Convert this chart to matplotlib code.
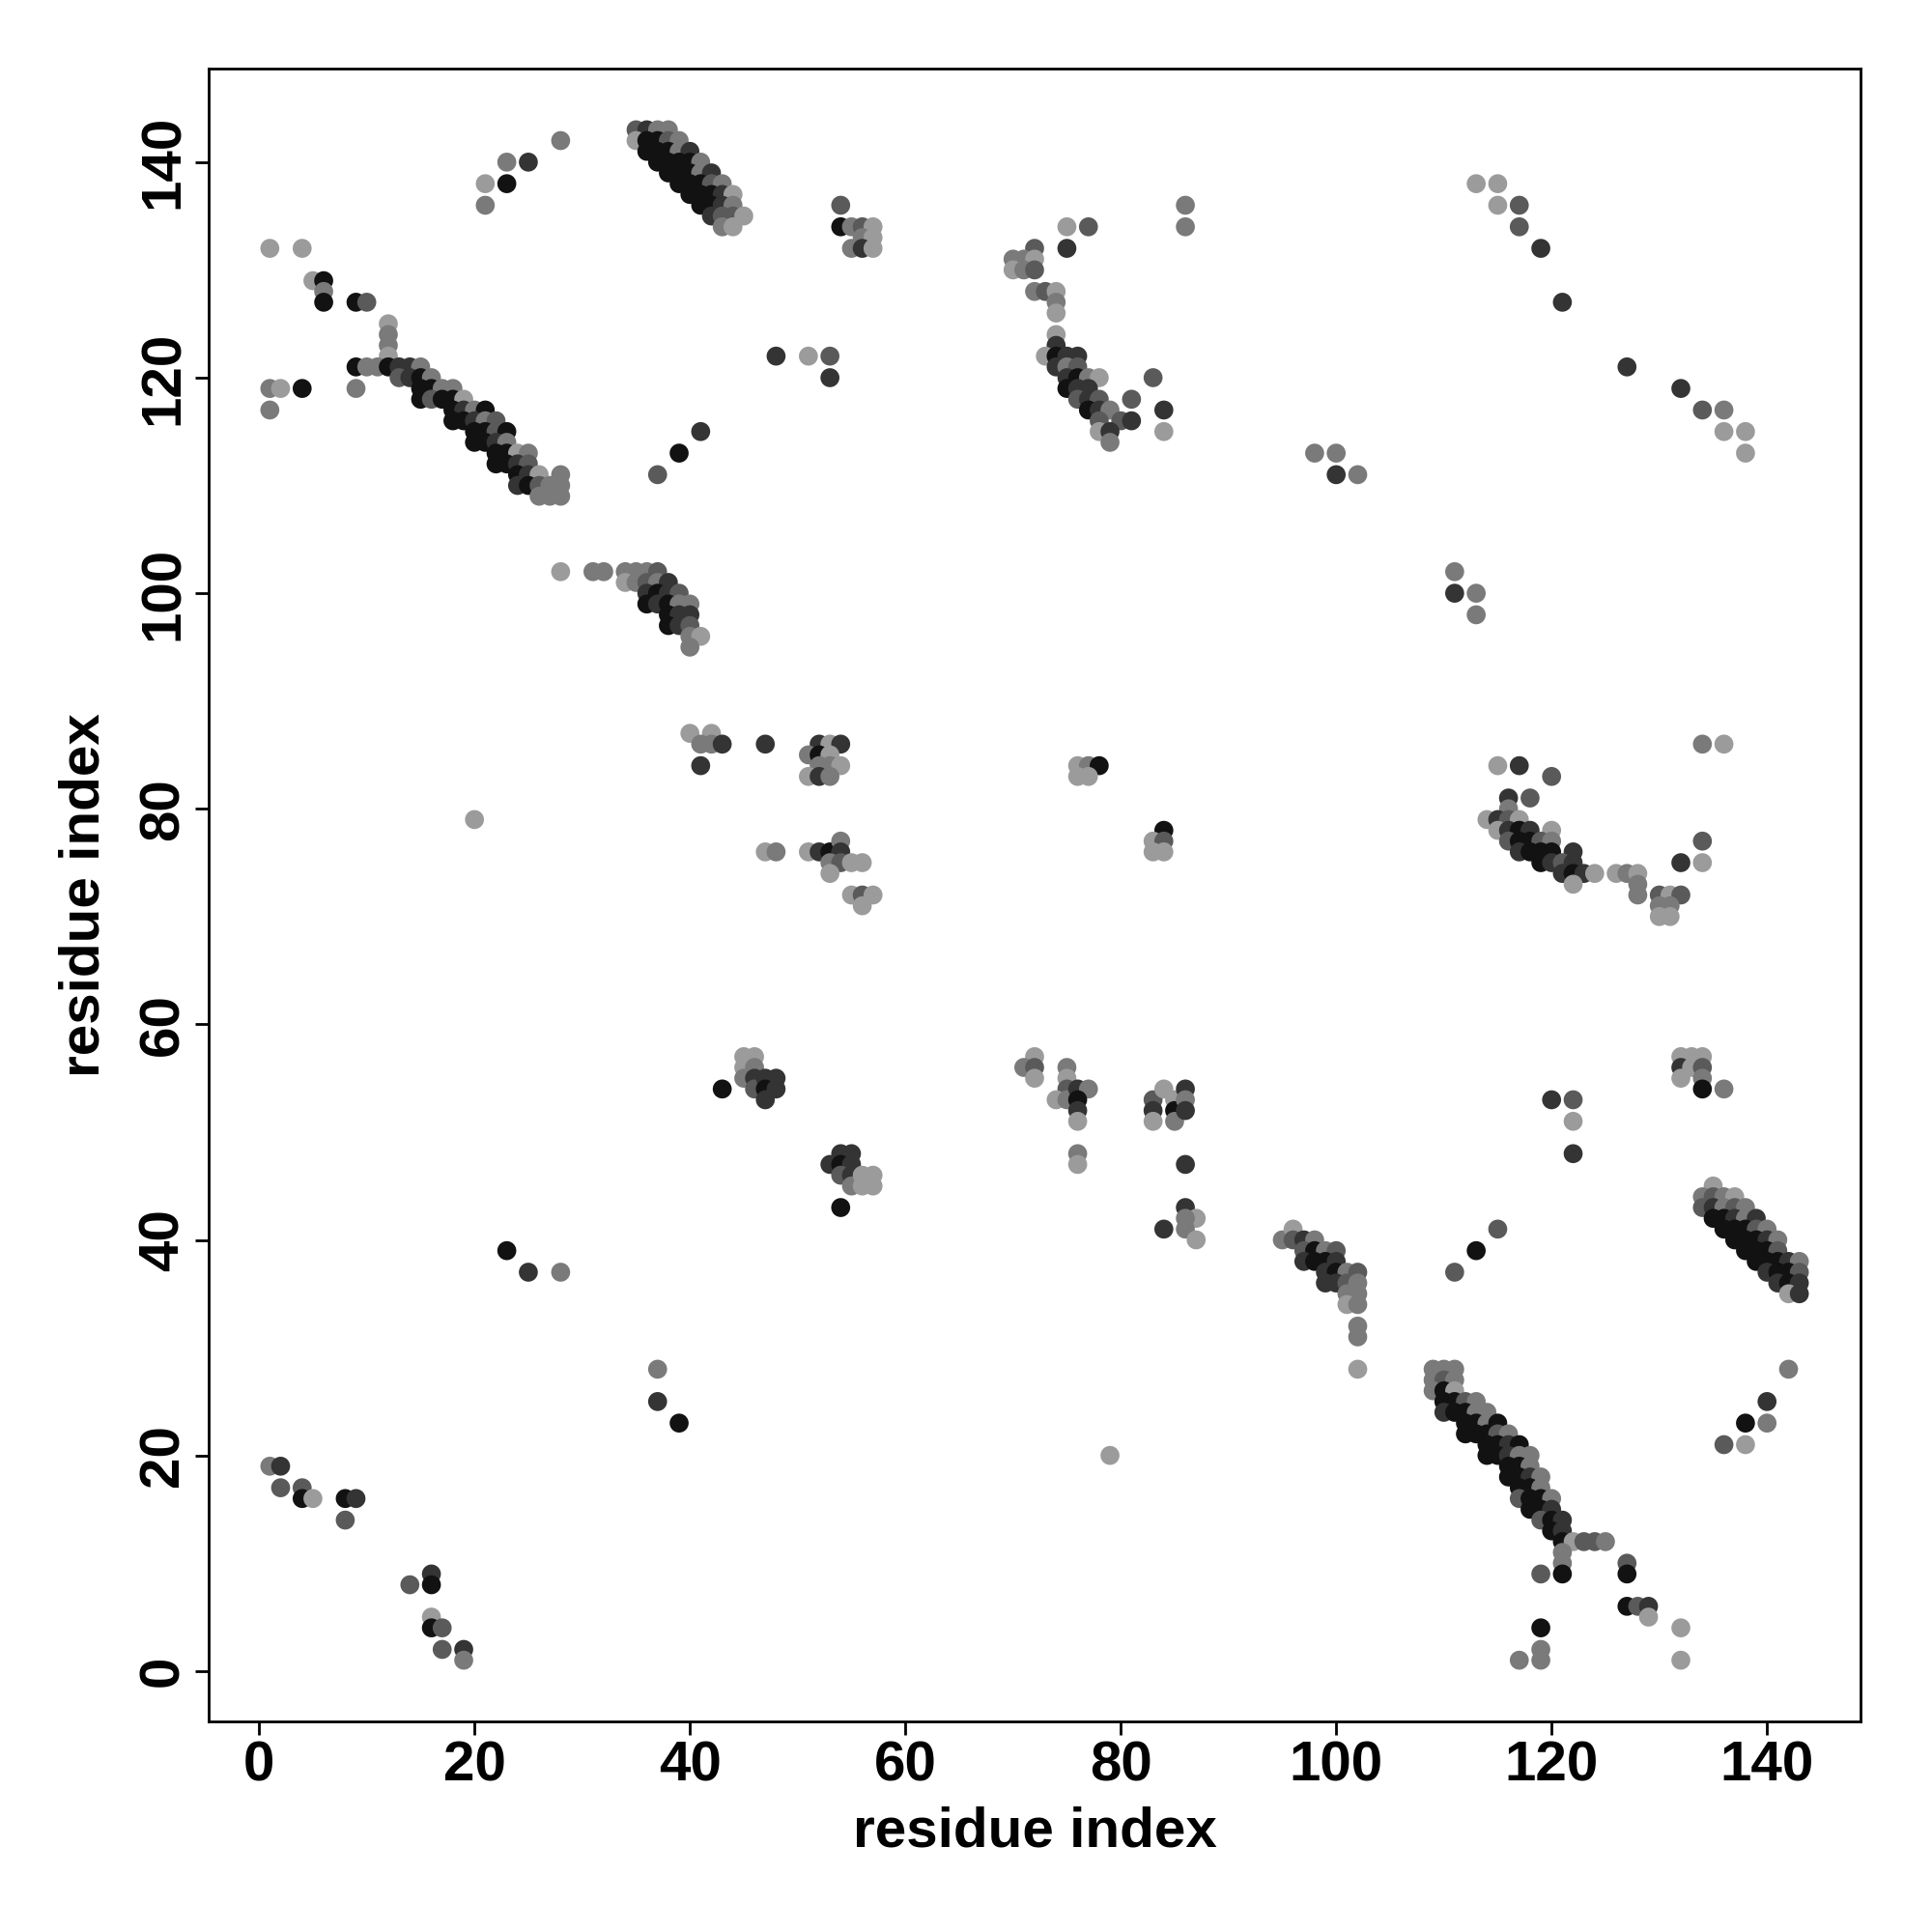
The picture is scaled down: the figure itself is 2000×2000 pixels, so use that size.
import matplotlib
matplotlib.use("Agg")
import matplotlib.pyplot as plt

plt.rcParams['font.family'] = ['Liberation Sans', 'DejaVu Sans']
plt.rcParams['font.weight'] = 'bold'

# shade levels: 1 = black ... 5 = light grey
shade_colors = {1: '#121212', 2: '#343434', 3: '#5a5a5a', 4: '#7a7a7a', 5: '#9b9b9b'}

# (residue i, residue j, shade level)
cluster_top_left = [
    (28,142,4),(23,140,4),(25,140,2),(21,138,5),(23,138,1),(21,136,4),
    (1,132,5),(4,132,5),(5,129,5),(6,129,1),(6,128,4),(6,127,1),(9,127,1),(10,127,3),
    (12,125,5),(12,124,4),(12,123,4),(12,122,5),
    (9,121,1),(10,121,4),(11,121,4),(12,121,1),(13,121,2),(14,121,2),(15,121,4),
    (1,119,4),(2,119,5),(4,119,1),(9,119,4),(1,117,4),
    (13,120,3),(14,120,2),(15,120,1),(16,120,4),
    (15,119,1),(16,119,1),(17,119,4),(18,119,4),
    (15,118,1),(16,118,3),(17,118,1),(18,118,1),(19,118,5),
    (18,117,1),(19,117,2),(20,117,4),(21,117,1),
    (18,116,1),(19,116,1),(20,116,2),(21,116,4),(22,116,3),
    (20,115,1),(21,115,1),(22,115,3),(23,115,1),
    (20,114,1),(21,114,1),(22,114,2),(23,114,4),
    (22,113,1),(23,113,1),(24,113,5),(25,113,4),
    (22,112,1),(23,112,1),(24,112,2),(25,112,3),
    (24,111,1),(25,111,2),(26,111,5),(28,111,4),
    (24,110,2),(25,110,1),(26,110,3),(27,110,4),(28,110,4),
    (26,109,4),(27,109,4),(28,109,4),
]

cluster_top_mid = [
    (35,143,3),(36,143,2),(37,143,4),(38,143,4),
    (35,142,5),(36,142,1),(37,142,1),(38,142,3),(39,142,4),
    (36,141,1),(37,141,1),(38,141,1),(39,141,4),(40,141,2),
    (37,140,1),(38,140,1),(39,140,1),(40,140,1),(41,140,4),
    (38,139,1),(39,139,1),(40,139,1),(41,139,4),(42,139,2),
    (39,138,1),(40,138,1),(41,138,1),(42,138,3),(43,138,4),
    (40,137,1),(41,137,1),(42,137,1),(43,137,2),(44,137,5),
    (41,136,1),(42,136,1),(43,136,2),(44,136,4),
    (42,135,2),(43,135,3),(44,135,3),(45,135,5),
    (43,134,4),(44,134,5),
    (54,136,3),(54,134,1),(55,134,4),(56,134,3),(57,134,5),(56,133,4),(57,133,5),
    (55,132,4),(56,132,2),(57,132,5),
    (48,122,2),(51,122,5),(53,122,3),(53,120,2),
    (41,115,2),(39,113,1),(37,111,3),
    (28,102,5),(31,102,4),(32,102,4),(34,102,4),(35,102,4),(36,102,4),(37,102,3),
    (34,101,5),(35,101,4),(36,101,3),(37,101,4),(38,101,2),
    (36,100,2),(37,100,1),(38,100,2),(39,100,3),
    (36,99,1),(37,99,2),(38,99,1),(39,99,4),(40,99,4),
    (38,98,1),(39,98,2),(40,98,2),
    (38,97,1),(39,97,2),(40,97,3),
    (40,96,4),(41,96,5),(40,95,4),
]

cluster_top_right = [
    (86,136,4),(86,134,4),(75,134,5),(77,134,3),(75,132,2),
    (72,132,3),(70,131,4),(71,131,4),(72,131,5),(70,130,5),(71,130,4),(72,130,3),
    (72,128,4),(73,128,3),(74,128,5),(74,127,4),(74,126,5),
    (74,124,5),(74,123,2),(73,122,5),(74,122,1),(75,122,2),(76,122,2),
    (74,121,2),(75,121,4),(76,121,3),
    (75,120,2),(76,120,1),(77,120,4),(78,120,5),
    (75,119,1),(76,119,2),(77,119,2),
    (76,118,3),(77,118,2),(78,118,3),
    (77,117,1),(78,117,2),(79,117,4),
    (78,116,3),(80,116,3),(81,116,2),
    (78,115,5),(79,115,2),(79,114,4),
    (81,118,3),(83,120,3),(84,117,2),(84,115,5),
    (98,113,4),(100,113,4),(100,111,2),(102,111,4),
    (113,138,5),(115,138,5),(115,136,5),(117,136,3),(117,134,3),(119,132,2),
    (121,127,2),(127,121,2),(132,119,2),(134,117,3),(136,117,4),(136,115,5),
    (138,115,5),(138,113,5),
    (111,102,4),(111,100,2),(113,100,4),(113,98,4),
]

cluster_mid_left = [
    (40,87,5),(42,87,5),(41,86,4),(42,86,4),(43,86,2),(41,84,2),(47,86,2),
    (52,86,2),(53,86,5),(54,86,2),(51,85,4),(52,85,1),(53,85,5),(52,84,4),(53,84,4),
    (54,84,5),(51,83,5),(52,83,2),(53,83,4),
    (47,76,5),(48,76,4),(51,76,5),(52,76,2),(53,76,1),(54,77,4),(54,76,2),(53,75,4),
    (54,75,3),(55,75,5),(56,75,5),(53,74,5),(55,72,5),(56,72,3),(57,72,5),(56,71,5),
    (20,79,5),
]

cluster_mid_right = [
    (76,84,5),(77,84,4),(78,84,1),(76,83,5),(77,83,5),
    (84,78,1),(83,77,5),(84,77,3),(83,76,5),(84,76,5),
    (115,84,5),(117,84,2),(120,83,3),(134,86,4),(136,86,5),
    (116,81,2),(118,81,3),
    (116,80,4),
    (114,79,5),(115,79,2),(116,79,3),(117,79,5),
    (115,78,5),(116,78,2),(117,78,1),(118,78,2),(120,78,5),
    (116,77,3),(117,77,1),(118,77,1),(119,77,3),(120,77,4),
    (117,76,2),(118,76,1),(119,76,1),(120,76,1),(122,76,2),
    (119,75,1),(120,75,2),(121,75,3),(122,75,2),
    (121,74,2),(122,74,1),(123,74,2),(124,74,5),(122,73,5),
    (126,74,5),(127,74,4),(128,74,5),(128,73,4),(128,72,4),
    (130,72,3),(131,72,5),(132,72,3),(130,71,4),(131,71,4),(130,70,5),(131,70,5),
    (134,77,3),(132,75,2),(134,75,5),
]

cluster_lower_mid = [
    (43,54,1),(45,57,5),(46,57,5),(45,56,5),(46,56,4),(45,55,4),(46,55,2),(46,54,3),
    (47,55,2),(48,55,2),(47,54,1),(48,54,2),(47,53,2),
    (53,47,2),(54,48,2),(55,48,2),(54,47,1),(55,47,2),(54,46,3),(55,46,2),(55,45,4),
    (56,46,5),(57,46,5),(56,45,5),(57,45,5),(54,43,1),
    (72,57,5),(71,56,4),(72,56,3),(72,55,5),
    (75,56,4),(75,55,5),(75,54,3),(74,53,5),(75,53,4),(76,54,2),(77,54,4),(76,53,1),
    (76,52,2),(76,51,5),(76,48,4),(76,47,5),
    (83,53,3),(83,52,2),(83,51,5),(84,54,5),(85,53,5),(85,52,1),(85,51,4),(86,54,2),
    (86,53,4),(86,52,2),
    (86,47,2),(86,43,2),(87,42,5),(86,42,4),(86,41,4),(87,40,5),(84,41,2),
    (95,40,4),(96,41,5),(96,40,3),(97,40,2),(98,40,4),
    (97,39,3),(98,39,1),(99,39,4),(100,39,3),
    (97,38,2),(98,38,1),(99,38,1),(100,38,2),
    (99,37,2),(100,37,1),(101,37,4),(102,37,3),
    (99,36,2),(100,36,2),(101,36,3),(102,36,4),
    (101,35,4),(102,35,4),(101,34,5),(102,34,4),
    (102,32,4),(102,31,4),(102,28,5),
]

cluster_lower_right = [
    (120,53,2),(122,53,3),(122,51,5),(122,48,2),
    (115,41,3),(113,39,1),(111,37,3),
    (132,57,5),(133,57,5),(134,57,5),(132,56,2),(133,56,5),(134,56,3),(132,55,5),
    (134,55,4),(134,54,1),(136,54,4),
    (135,45,5),
    (134,44,4),(135,44,3),(136,44,4),(137,44,5),
    (134,43,3),(135,43,2),(136,43,4),(137,43,3),(138,43,4),
    (135,42,1),(136,42,1),(137,42,2),(138,42,4),(139,42,2),
    (136,41,1),(137,41,1),(138,41,1),(139,41,3),(140,41,4),
    (137,40,1),(138,40,1),(139,40,1),(140,40,2),(141,40,4),
    (138,39,1),(139,39,1),(140,39,1),(141,39,3),
    (139,38,1),(140,38,1),(141,38,1),(142,38,2),(143,38,4),
    (140,37,2),(141,37,1),(142,37,1),(143,37,3),
    (141,36,2),(142,36,1),(143,36,2),
    (142,35,5),(143,35,2),
    (142,28,4),(140,25,2),(138,23,1),(140,23,4),(136,21,3),(138,21,5),
    (109,28,4),(110,28,4),(111,28,4),
    (109,27,4),(110,27,3),(111,27,4),
    (109,26,4),(110,26,1),(111,26,5),
    (110,25,1),(111,25,1),(112,25,3),(113,25,4),
    (110,24,2),(111,24,1),(112,24,1),(113,24,4),(114,24,4),
    (112,23,1),(113,23,1),(114,23,4),(115,23,1),
    (112,22,1),(113,22,1),(114,22,1),(115,22,3),(116,22,4),
    (114,21,1),(115,21,1),(116,21,2),(117,21,1),
    (114,20,1),(115,20,1),(116,20,2),(117,20,4),(118,20,4),
    (116,19,1),(117,19,1),(118,19,4),
    (116,18,1),(117,18,1),(118,18,2),(119,18,4),
    (117,17,1),(118,17,1),(119,17,4),
    (117,16,3),(118,16,1),(119,16,1),(120,16,4),
    (118,15,1),(119,15,1),(120,15,2),
    (119,14,3),(120,14,1),(121,14,2),
    (120,13,1),(121,13,2),
    (121,12,1),(122,12,5),(123,12,3),(124,12,3),(125,12,4),
    (121,11,4),(121,10,4),(119,9,3),(121,9,1),
    (117,1,4),(119,1,4),(119,2,4),(119,4,1),
    (127,10,3),(127,9,1),(127,6,1),(128,6,3),(129,6,2),(129,5,5),(132,4,5),(132,1,5),
    (79,20,5),
]

cluster_bottom_left = [
    (1,19,4),(2,19,2),(2,17,3),(4,17,3),(4,16,1),(5,16,5),(8,16,1),(9,16,2),(8,14,3),
    (14,8,3),(16,9,2),(16,8,1),(16,5,5),(16,4,1),(17,4,3),(17,2,3),(19,2,2),(19,1,4),
    (23,39,1),(25,37,2),(28,37,4),(37,28,4),(37,25,2),(39,23,1),
]

tick_values = [0, 20, 40, 60, 80, 100, 120, 140]
axis_label = "residue index"

all_points = (cluster_top_left + cluster_top_mid + cluster_top_right + cluster_mid_left
              + cluster_mid_right + cluster_lower_mid + cluster_lower_right + cluster_bottom_left)
xs = [p[0] for p in all_points]
ys = [p[1] for p in all_points]
cs = [shade_colors[p[2]] for p in all_points]

fig = plt.figure(figsize=(10, 10), dpi=200)
ax = fig.add_axes([0.108, 0.109, 0.855, 0.8555])
ax.scatter(xs, ys, s=50, c=cs, linewidths=0, zorder=3)

ax.set_xlim(-4.68, 148.68)
ax.set_ylim(-4.68, 148.68)
ax.set_xticks(tick_values)
ax.set_yticks(tick_values)
ax.set_xticklabels([str(v) for v in tick_values], fontsize=21, fontweight='bold')
ax.set_yticklabels([str(v) for v in tick_values], fontsize=21, fontweight='bold',
                   rotation=90, va='center')
ax.tick_params(axis='both', direction='out', length=5, width=1.0, pad=2)
for sp in ax.spines.values():
    sp.set_linewidth(1.0)
ax.set_xlabel(axis_label, fontsize=21, fontweight='bold', labelpad=5)
ax.set_ylabel(axis_label, fontsize=21, fontweight='bold', labelpad=10)

fig.savefig("out.png", dpi=200, facecolor='white')
